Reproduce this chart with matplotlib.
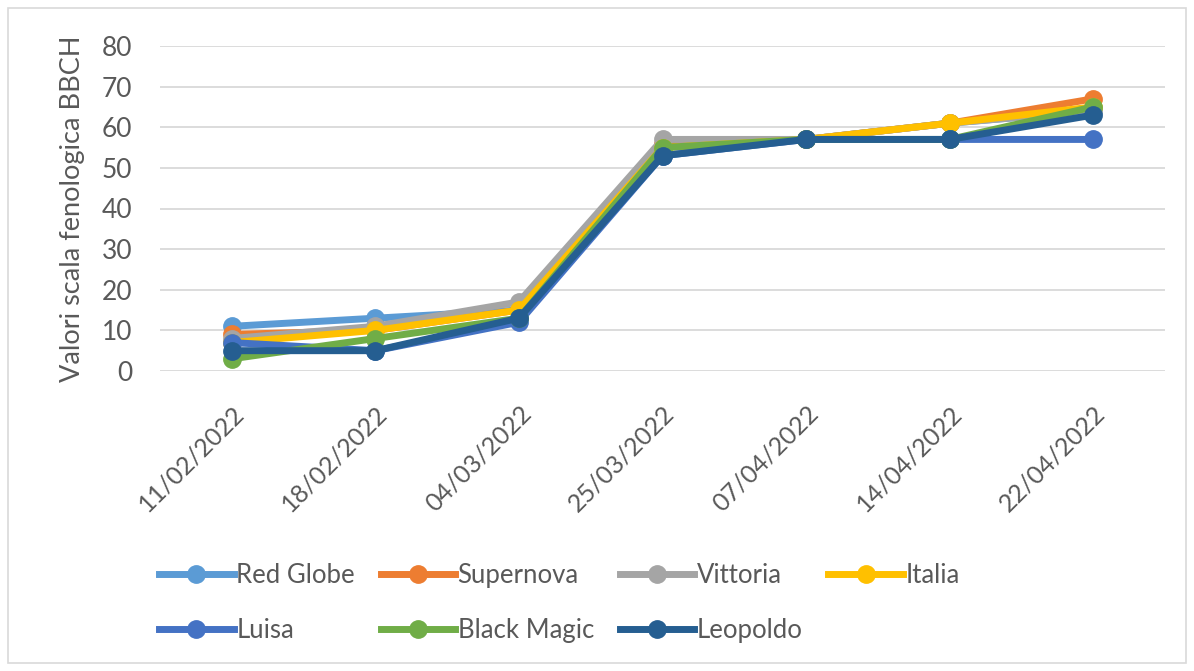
import matplotlib.pyplot as plt
from matplotlib.patches import Rectangle

# Date dei rilievi e valori BBCH per varietà
dates = ['11/02/2022', '18/02/2022', '04/03/2022', '25/03/2022',
         '07/04/2022', '14/04/2022', '22/04/2022']

red_globe = [11, 13, 15, 55, 57, 61, 64]
supernova = [9, 10, 15, 56, 57, 61, 67]
vittoria = [8, 11, 17, 57, 57, 61, 64]
italia = [7, 10, 15, 55, 57, 61, 65]
luisa = [7, 5, 12, 53, 57, 57, 57]
black_magic = [3, 8, 13, 55, 57, 57, 65]
leopoldo = [5, 5, 13, 53, 57, 57, 63]

series = [
    ('Red Globe', red_globe, '#5B9BD5'),
    ('Supernova', supernova, '#ED7D31'),
    ('Vittoria', vittoria, '#A5A5A5'),
    ('Italia', italia, '#FFC000'),
    ('Luisa', luisa, '#4472C4'),
    ('Black Magic', black_magic, '#70AD47'),
    ('Leopoldo', leopoldo, '#255E91'),
]

plt.rcParams['font.family'] = ['Lato', 'DejaVu Sans']
text_color = '#595959'

fig = plt.figure(figsize=(11.94, 6.71), dpi=100)
ax = fig.add_axes([160 / 1194, 1 - 371 / 671, (1165 - 160) / 1194, (371 - 46) / 671])

x = list(range(len(dates)))
handles = {}
for name, vals, col in series:
    h, = ax.plot(x, vals, color=col, lw=5.0, marker='o', ms=12.5,
                 solid_joinstyle='round', label=name)
    handles[name] = h

ax.set_xlim(-0.5, len(dates) - 0.5)
ax.set_ylim(0, 80)
ax.set_yticks(range(0, 81, 10))
ax.set_xticks(x)
ax.set_xticklabels(dates, rotation=45, ha='right', rotation_mode='anchor')
ax.grid(axis='y', color='#D9D9D9', lw=1.3)
ax.set_axisbelow(True)
for s in ax.spines.values():
    s.set_visible(False)
ax.tick_params(length=0, colors=text_color)
ax.tick_params(axis='y', labelsize=19, pad=20)
ax.tick_params(axis='x', labelsize=18, pad=22)
ax.set_ylabel('Valori scala fenologica BBCH', fontsize=19.5, color=text_color, labelpad=12)

# legenda su due righe, riempita per righe
order = ['Red Globe', 'Luisa', 'Supernova', 'Black Magic', 'Vittoria', 'Leopoldo', 'Italia']
fig.legend([handles[n] for n in order], order, ncol=4, loc='upper left',
           bbox_to_anchor=(136 / 1194, 1 - 540 / 671), frameon=False,
           fontsize=18.5, labelcolor=text_color, handlelength=2.9,
           handletextpad=0.1, columnspacing=1.0, labelspacing=1.15,
           markerscale=1.0)

fig.patches.append(Rectangle((8 / 1194, 8 / 671), 1178 / 1194, 655 / 671,
                             transform=fig.transFigure, fill=False,
                             edgecolor='#D9D9D9', lw=1.2))

fig.savefig('out.png', dpi=100, facecolor='white')
